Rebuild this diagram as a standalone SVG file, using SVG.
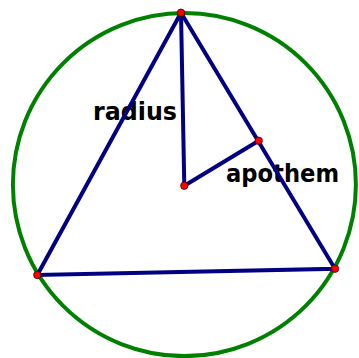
<svg xmlns="http://www.w3.org/2000/svg" width="359" height="358" viewBox="0 0 359 358">
<style>
.lbl{font-family:"DejaVu Sans",sans-serif;font-weight:bold;font-size:25px;fill:#000}
.seg{stroke:#000080;stroke-width:4;stroke-linecap:round;fill:none}
.pt{fill:#ff0000;stroke:#400000;stroke-width:0.8}
</style>
<rect width="359" height="358" fill="#fff"/>
<g id="circle"><circle cx="184.4" cy="184.6" r="171.5" fill="none" stroke="#008000" stroke-width="4"/></g>
<g id="labels">
<text id="radius" class="lbl" x="93" y="120" textLength="84" lengthAdjust="spacingAndGlyphs">radius</text>
<text id="apothem" class="lbl" x="226" y="182" textLength="113" lengthAdjust="spacingAndGlyphs">apothem</text>
</g>
<g id="connectors">
<polygon class="seg" points="181,12.7 37.3,275 335,268.7"/>
<line class="seg" x1="181" y1="12.7" x2="184.3" y2="185.7"/>
<line class="seg" x1="184.3" y1="185.7" x2="258.7" y2="140.7"/>
</g>
<g id="points">
<circle id="A" class="pt" cx="181" cy="12.7" r="3.7"/>
<circle id="B" class="pt" cx="37.3" cy="275" r="3.7"/>
<circle id="C" class="pt" cx="335" cy="268.7" r="3.7"/>
<circle id="O" class="pt" cx="184.3" cy="185.7" r="3.7"/>
<circle id="M" class="pt" cx="258.7" cy="140.7" r="3.7"/>
</g>
</svg>
